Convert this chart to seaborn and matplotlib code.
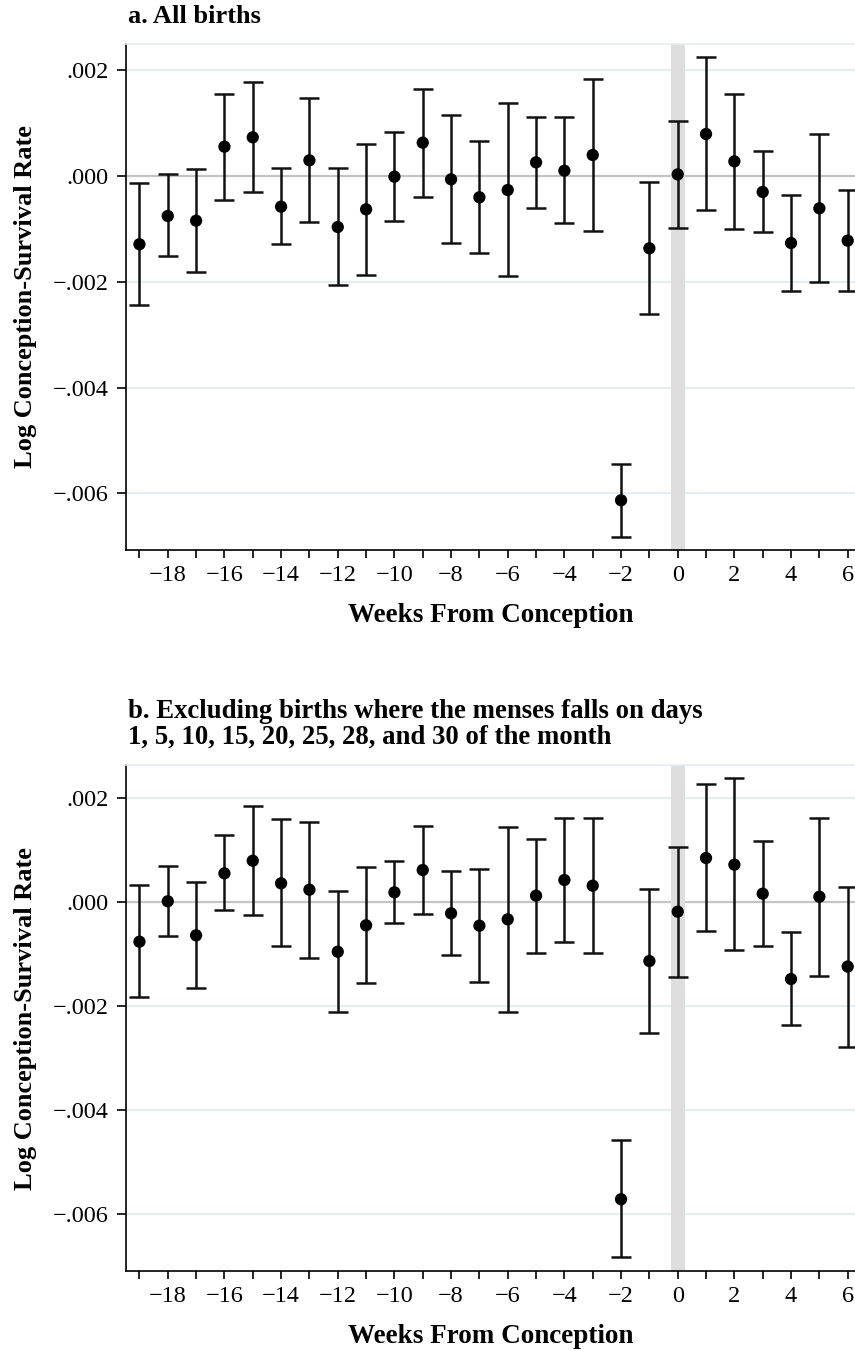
import numpy as np
import pandas as pd
import matplotlib
matplotlib.use("Agg")
import matplotlib.pyplot as plt
import seaborn as sns
from matplotlib.ticker import FixedLocator, FixedFormatter

# ---------------- data (values in units of 0.001) ----------------
weeks = list(range(-19, 7))

est_a = [-1.29, -0.756, -0.845, 0.554, 0.731, -0.58, 0.296, -0.964, -0.63, -0.013,
         0.63, -0.063, -0.403, -0.265, 0.258, 0.10, 0.397, -6.13, -1.367, 0.03,
         0.794, 0.277, -0.302, -1.267, -0.611, -1.222]
hi_a = [-0.127, 0.03, 0.126, 1.556, 1.77, 0.151, 1.474, 0.145, 0.611, 0.838,
        1.64, 1.147, 0.655, 1.374, 1.12, 1.11, 1.828, -5.44, -0.107, 1.04,
        2.24, 1.556, 0.466, -0.359, 0.794, -0.271]
lo_a = [-2.44, -1.51, -1.81, -0.454, -0.302, -1.285, -0.876, -2.067, -1.865, -0.845,
        -0.39, -1.26, -1.456, -1.896, -0.611, -0.895, -1.04, -6.82, -2.61, -0.983,
        -0.65, -0.995, -1.052, -2.168, -2.004, -2.18]

est_b = [-0.757, 0.02, -0.635, 0.557, 0.80, 0.365, 0.243, -0.95, -0.442, 0.192,
         0.621, -0.212, -0.449, -0.327, 0.128, 0.429, 0.32, -5.71, -1.129, -0.18,
         0.852, 0.724, 0.166, -1.475, 0.108, -1.235]
hi_b = [0.327, 0.704, 0.39, 1.288, 1.858, 1.596, 1.544, 0.212, 0.685, 0.80,
        1.467, 0.608, 0.64, 1.455, 1.224, 1.615, 1.615, -4.58, 0.25, 1.058,
        2.27, 2.39, 1.173, -0.571, 1.621, 0.30]
lo_b = [-1.827, -0.648, -1.654, -0.154, -0.244, -0.834, -1.065, -2.10, -1.546, -0.404,
        -0.225, -1.02, -1.54, -2.11, -0.968, -0.769, -0.981, -6.83, -2.51, -1.43,
        -0.552, -0.923, -0.834, -2.365, -1.417, -2.777]

ytick_vals = [-0.006, -0.004, -0.002, 0.0, 0.002]
ytick_labels = ["\u2212.006", "\u2212.004", "\u2212.002", ".000", ".002"]
xtick_major = list(range(-18, 7, 2))
xtick_minor = list(range(-19, 7, 2))
xtick_labels = [str(v).replace("-", "\u2212") for v in xtick_major]

title_a = "a. All births"
title_b = "b. Excluding births where the menses falls on days\n1, 5, 10, 15, 20, 25, 28, and 30 of the month"
xlabel = "Weeks From Conception"
ylabel = "Log Conception-Survival Rate"

# ---------------- style ----------------
sns.set_style("ticks")
plt.rcParams["font.family"] = ["Liberation Serif", "DejaVu Serif"]
plt.rcParams["axes.unicode_minus"] = True
plt.rcParams["text.color"] = "black"
plt.rcParams["axes.labelcolor"] = "black"
plt.rcParams["xtick.color"] = "black"
plt.rcParams["ytick.color"] = "black"

W, H = 855, 1351
fig = plt.figure(figsize=(W / 100, H / 100), dpi=100)


def add_axes(left, top, right, bottom):
    return fig.add_axes([left / W, 1 - bottom / H, (right - left) / W, (bottom - top) / H])


ax_a = add_axes(125.7, 44, 855, 550)
ax_b = add_axes(125.7, 765.3, 855, 1271)

GRID = "#e4edf1"
ZERO = "#c4c4c4"
BAND = "#dedede"


def draw(ax, est, lo, hi, ylim):
    df = pd.DataFrame({
        "week": weeks,
        "est": np.array(est) * 1e-3,
        "lo": np.array(lo) * 1e-3,
        "hi": np.array(hi) * 1e-3,
    })
    for yv in ytick_vals:
        if yv != 0:
            ax.axhline(yv, color=GRID, lw=1.6, zorder=0)
    ax.axhline(0, color=ZERO, lw=1.6, zorder=0.5)
    ax.axvspan(-0.25, 0.25, color=BAND, lw=0, zorder=1)
    ax.errorbar(df["week"], df["est"],
                yerr=[df["est"] - df["lo"], df["hi"] - df["est"]],
                fmt="none", ecolor="#111111", elinewidth=1.8,
                capsize=7, capthick=1.8, zorder=3)
    sns.scatterplot(data=df, x="week", y="est", ax=ax, color="black",
                    s=78, edgecolor="none", zorder=4, legend=False)

    ax.set_xlim(-19.485, 6.258)
    ax.set_ylim(*ylim)

    ax.xaxis.set_major_locator(FixedLocator(xtick_major))
    ax.xaxis.set_major_formatter(FixedFormatter(xtick_labels))
    ax.xaxis.set_minor_locator(FixedLocator(xtick_minor))
    ax.yaxis.set_major_locator(FixedLocator(ytick_vals))
    ax.yaxis.set_major_formatter(FixedFormatter(ytick_labels))

    ax.tick_params(axis="x", which="both", direction="out", length=6, width=1.2,
                   color="black", labelcolor="black", labelsize=17.5, pad=5)
    ax.tick_params(axis="y", which="major", direction="out", length=6.5, width=1.2,
                   color="black", labelcolor="black", labelsize=17.5, pad=6)

    for side in ("left", "bottom"):
        ax.spines[side].set_color("black")
        ax.spines[side].set_linewidth(1.2)
    ax.spines["top"].set_color(GRID)
    ax.spines["top"].set_linewidth(1.2)
    ax.spines["right"].set_visible(False)

    ax.set_xlabel(xlabel, fontsize=19.5, fontweight="bold", color="black")
    ax.set_ylabel(ylabel, fontsize=19, fontweight="bold", color="black")
    ax.xaxis.set_label_coords(0.5, -0.105)
    ax.yaxis.set_label_coords(-0.122, 0.5)


draw(ax_a, est_a, lo_a, hi_a, (-0.00707, 0.002495))
draw(ax_b, est_b, lo_b, hi_b, (-0.00709, 0.002635))

fig.text(127.7 / W, 1 - 16.7 / H, title_a, fontsize=19, fontweight="bold",
         ha="left", va="center", color="black")
fig.text(127.7 / W, 1 - 724.2 / H, title_b, fontsize=19.3, fontweight="bold",
         ha="left", va="center", linespacing=1.05, color="black")

fig.savefig("out.png", dpi=100)
